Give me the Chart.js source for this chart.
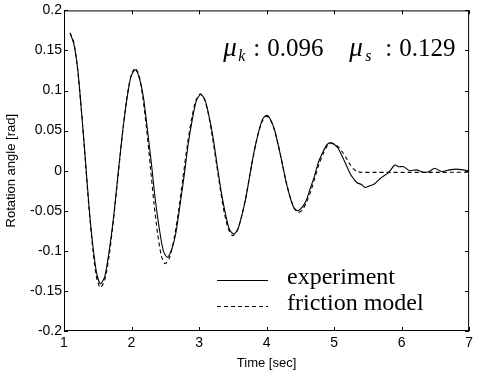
<!DOCTYPE html>
<html>
<head>
<meta charset="utf-8">
<script src="https://cdn.jsdelivr.net/npm/chart.js@4.4.1/dist/chart.umd.min.js"></script>
<style>
  html, body { margin: 0; padding: 0; background: #fff; }
  #chart { display: block; }
</style>
</head>
<body>
<canvas id="chart" width="477" height="376"></canvas>
<script>
// --- data (time in sec, angle in rad)
const expTime = [
  1.09, 1.146, 1.203, 1.259, 1.315, 1.371, 1.428, 1.484, 1.54,
  1.604, 1.669, 1.733, 1.798, 1.862, 1.926, 1.991, 2.055,
  2.114, 2.174, 2.233, 2.293, 2.352, 2.411, 2.471, 2.53,
  2.592, 2.654, 2.716, 2.778, 2.839, 2.901, 2.963, 3.025,
  3.086, 3.146, 3.207, 3.268, 3.328, 3.389, 3.449, 3.51,
  3.571, 3.633, 3.694, 3.755, 3.816, 3.878, 3.939, 4.0,
  4.058, 4.115, 4.173, 4.23, 4.288, 4.345, 4.403, 4.46,
  4.521, 4.583, 4.644, 4.705, 4.766, 4.828, 4.889, 4.95,
  5.0, 5.06, 5.12, 5.18, 5.24, 5.29, 5.34, 5.40, 5.46,
  5.52, 5.59, 5.68, 5.81, 5.90, 5.96, 6.03, 6.12, 6.22, 6.32, 6.41, 6.49, 6.59, 6.71, 6.81, 6.91, 7.0
];
const expAngle = [
  0.172, 0.158, 0.127, 0.074, 0.016, -0.045, -0.094, -0.128, -0.141,
  -0.132, -0.100, -0.059, -0.006, 0.044, 0.086, 0.117, 0.126,
  0.116, 0.093, 0.053, 0.010, -0.036, -0.072, -0.100, -0.108,
  -0.099, -0.079, -0.044, -0.007, 0.033, 0.064, 0.088, 0.095,
  0.089, 0.069, 0.042, 0.007, -0.026, -0.053, -0.073, -0.079,
  -0.074, -0.056, -0.034, -0.004, 0.024, 0.047, 0.064, 0.069,
  0.064, 0.052, 0.032, 0.010, -0.014, -0.032, -0.046, -0.050,
  -0.046, -0.038, -0.023, -0.008, 0.010, 0.022, 0.032, 0.035,
  0.033, 0.028, 0.018, 0.007, -0.004, -0.010, -0.015, -0.017, -0.021,
  -0.019, -0.017, -0.010, -0.002, 0.007, 0.005, 0.005, 0.000, 0.001, -0.002, -0.001, 0.003, -0.001, 0.001, 0.002, 0.001, 0.000
];
const modelTime = [
  1.09, 1.146, 1.203, 1.259, 1.315, 1.371, 1.428, 1.484, 1.54,
  1.604, 1.669, 1.733, 1.798, 1.862, 1.926, 1.991, 2.055,
  2.111, 2.166, 2.222, 2.278, 2.333, 2.389, 2.444, 2.50,
  2.565, 2.63, 2.695, 2.76, 2.825, 2.89, 2.955, 3.02,
  3.08, 3.14, 3.20, 3.26, 3.32, 3.38, 3.44, 3.50,
  3.563, 3.625, 3.688, 3.75, 3.813, 3.875, 3.938, 4.0,
  4.059, 4.118, 4.176, 4.235, 4.294, 4.353, 4.411, 4.47,
  4.531, 4.593, 4.654, 4.715, 4.776, 4.838, 4.899, 4.96,
  5.015, 5.07, 5.125, 5.18, 5.235, 5.29, 5.345, 5.40, 7.0
];
const modelAngle = [
  0.172, 0.160, 0.125, 0.074, 0.013, -0.048, -0.099, -0.134, -0.146,
  -0.136, -0.106, -0.061, -0.009, 0.043, 0.088, 0.118, 0.128,
  0.119, 0.092, 0.053, 0.006, -0.041, -0.080, -0.107, -0.116,
  -0.108, -0.085, -0.051, -0.010, 0.031, 0.065, 0.088, 0.096,
  0.089, 0.070, 0.041, 0.008, -0.026, -0.055, -0.074, -0.081,
  -0.075, -0.059, -0.035, -0.007, 0.022, 0.046, 0.062, 0.068,
  0.063, 0.050, 0.031, 0.008, -0.015, -0.034, -0.047, -0.052,
  -0.049, -0.039, -0.026, -0.009, 0.008, 0.021, 0.031, 0.034,
  0.033, 0.029, 0.023, 0.016, 0.008, 0.002, -0.001, -0.002, -0.002
];

const seriesNames = ["experiment", "friction model"];
const xTickLabels = ["1", "2", "3", "4", "5", "6", "7"];
const yTickLabels = ["-0.2", "-0.15", "-0.1", "-0.05", "0", "0.05", "0.1", "0.15", "0.2"];
const muK = "0.096";
const muS = "0.129";

const ink = "#000";
const serif = "'Liberation Serif', 'Times New Roman', serif";
const sans = "'Liberation Sans', Arial, sans-serif";

function toPoints(xs, ys) {
  return xs.map((x, i) => ({ x: x, y: ys[i] }));
}

// --- box frame + inward ticks on all four sides, plus text overlays
const framePlugin = {
  id: "frame",
  afterDatasetsDraw(chart) {
    const { ctx, chartArea: a, scales } = chart;
    ctx.save();
    ctx.strokeStyle = ink;
    ctx.lineWidth = 1;
    ctx.strokeRect(a.left + 0.5, a.top + 0.5, a.right - a.left - 1, a.bottom - a.top - 1);
    const len = 4;
    ctx.beginPath();
    scales.x.ticks.forEach(t => {
      const px = Math.round(scales.x.getPixelForValue(t.value)) + 0.5;
      ctx.moveTo(px, a.bottom); ctx.lineTo(px, a.bottom - len);
      ctx.moveTo(px, a.top); ctx.lineTo(px, a.top + len);
    });
    scales.y.ticks.forEach(t => {
      const py = Math.round(scales.y.getPixelForValue(t.value)) + 0.5;
      ctx.moveTo(a.left, py); ctx.lineTo(a.left + len, py);
      ctx.moveTo(a.right, py); ctx.lineTo(a.right - len, py);
    });
    ctx.stroke();
    ctx.restore();
  },
  afterDraw(chart) {
    const { ctx, scales } = chart;
    ctx.save();
    ctx.fillStyle = ink;
    ctx.textBaseline = "alphabetic";

    // mu_k / mu_s annotation
    const x0 = scales.x.getPixelForValue(3.36);
    const yb = scales.y.getPixelForValue(0.143);
    ctx.font = "italic 27px " + serif;
    ctx.fillText("\u03bc", x0, yb);
    ctx.fillText("\u03bc", x0 + 126, yb);
    ctx.font = "italic 16px " + serif;
    ctx.fillText("k", x0 + 15, yb + 5);
    ctx.fillText("s", x0 + 142, yb + 5);
    ctx.font = "25px " + serif;
    ctx.fillText(":", x0 + 30, yb);
    ctx.fillText(muK, x0 + 44, yb);
    ctx.fillText(":", x0 + 162, yb);
    ctx.fillText(muS, x0 + 176, yb);

    // legend
    const ds = chart.data.datasets;
    const lx = 217, lw = 51;
    const rows = [{ y: 280, tb: 284 }, { y: 306, tb: 310 }];
    ds.forEach((d, i) => {
      ctx.beginPath();
      ctx.lineWidth = 1.2;
      ctx.strokeStyle = ink;
      ctx.setLineDash(d.borderDash || []);
      ctx.moveTo(lx, rows[i].y + 0.5);
      ctx.lineTo(lx + lw, rows[i].y + 0.5);
      ctx.stroke();
      ctx.setLineDash([]);
      ctx.font = "24px " + serif;
      ctx.fillText(d.label, 287, rows[i].tb);
    });
    ctx.restore();
  }
};

new Chart(document.getElementById("chart"), {
  type: "line",
  data: {
    datasets: [
      {
        label: seriesNames[0],
        data: toPoints(expTime, expAngle),
        borderColor: ink,
        borderWidth: 1.1,
        pointRadius: 0,
        tension: 0.25
      },
      {
        label: seriesNames[1],
        data: toPoints(modelTime, modelAngle),
        borderColor: ink,
        borderWidth: 1.1,
        borderDash: [4, 3],
        pointRadius: 0,
        tension: 0.25
      }
    ]
  },
  options: {
    responsive: false,
    animation: false,
    layout: { padding: { top: 9, right: 4, left: 0, bottom: 0 } },
    plugins: { legend: { display: false }, tooltip: { enabled: false } },
    scales: {
      x: {
        type: "linear",
        min: 1, max: 7,
        afterFit: s => { s.height = 45; },
        grid: { display: false, drawTicks: false },
        border: { display: false },
        ticks: {
          stepSize: 1,
          padding: 4,
          color: ink,
          font: { family: sans, size: 14 },
          callback: (v, i) => xTickLabels[i]
        },
        title: {
          display: true,
          text: "Time [sec]",
          color: ink,
          font: { family: sans, size: 13 },
          padding: { top: 0, bottom: 5 }
        }
      },
      y: {
        min: -0.2, max: 0.2,
        afterFit: s => { s.width = 64; },
        grid: { display: false, drawTicks: false },
        border: { display: false },
        ticks: {
          stepSize: 0.05,
          padding: 2,
          color: ink,
          font: { family: sans, size: 14 },
          callback: (v, i) => yTickLabels[i]
        },
        title: {
          display: true,
          text: "Rotation angle [rad]",
          color: ink,
          font: { family: sans, size: 13 },
          padding: { top: 4, bottom: 0 }
        }
      }
    }
  },
  plugins: [framePlugin]
});
</script>
</body>
</html>
